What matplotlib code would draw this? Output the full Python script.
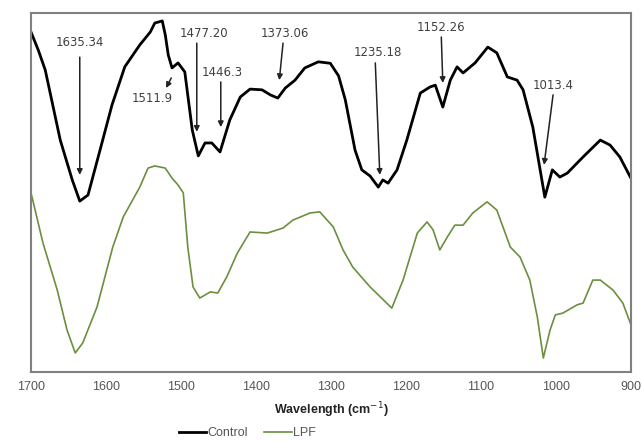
import numpy as np
import matplotlib.pyplot as plt

plt.rcParams['font.family'] = ['Liberation Sans', 'DejaVu Sans']

# FTIR spectra (wavenumber cm-1, transmittance-like units)
ControlWn = [1700, 1690, 1681, 1661, 1645, 1635, 1624, 1608, 1592, 1575, 1555, 1541, 1535,
             1525, 1521, 1517, 1512, 1504, 1495, 1485, 1477, 1468, 1459, 1448, 1435,
             1421, 1408, 1392, 1381, 1371, 1361, 1348, 1335, 1317, 1301, 1290, 1281, 1268,
             1259, 1248, 1237, 1231, 1224, 1212, 1199, 1181, 1168, 1161, 1151, 1141,
             1132, 1124, 1108, 1091, 1079, 1065, 1052, 1044, 1031, 1015, 1005, 995,
             985, 964, 941, 928, 915, 901]
ControlT = [94.7, 89.5, 84.1, 64.6, 53.5, 47.6, 49.3, 61.8, 74.4, 85.0, 91.1, 94.7, 97.2,
            97.8, 93.9, 88.3, 84.7, 86.1, 83.6, 67.4, 60.2, 63.8, 63.8, 61.3, 70.2,
            76.6, 78.8, 78.6, 77.2, 76.3, 79.1, 81.3, 84.7, 86.4, 86.0, 82.5, 75.8, 61.8,
            56.3, 54.6, 51.5, 53.5, 52.6, 56.3, 64.6, 77.7, 79.4, 79.9, 73.8, 81.3,
            85.0, 83.3, 86.1, 90.5, 88.9, 82.2, 81.3, 78.6, 68.2, 48.7, 56.3, 54.3,
            55.4, 59.9, 64.6, 63.2, 59.9, 54.3]

LpfWn = [1700, 1684, 1665, 1652, 1641, 1631, 1612, 1591, 1577, 1555, 1544, 1535,
         1521, 1512, 1504, 1497, 1491, 1484, 1475, 1461, 1451, 1439, 1425, 1408,
         1385, 1364, 1351, 1328, 1315, 1297, 1284, 1271, 1248, 1219, 1204, 1185,
         1172, 1164, 1155, 1145, 1135, 1124, 1111, 1092, 1079, 1061, 1048, 1035,
         1025, 1017, 1008, 1001, 991, 972, 964, 951, 941, 924, 911, 901]
LpfT = [49.9, 35.9, 22.8, 11.7, 5.3, 8.1, 18.1, 34.8, 43.2, 51.5, 56.8, 57.4,
        56.8, 54.0, 52.1, 49.9, 34.8, 23.7, 20.6, 22.3, 22.0, 26.5, 33.1, 39.0,
        38.7, 40.1, 42.3, 44.3, 44.6, 40.4, 34.0, 29.2, 23.7, 17.8, 25.6, 38.7,
        41.8, 39.6, 34.0, 37.6, 40.9, 40.9, 44.3, 47.4, 45.1, 34.8, 32.0, 25.6,
        15.3, 3.9, 11.7, 15.9, 16.4, 18.7, 19.2, 25.6, 25.6, 22.8, 19.2, 13.6]

# Peak labels: text, text position, arrow tail, arrow head
PeakLabels = ['1635.34', '1511.9', '1477.20', '1446.3', '1373.06', '1235.18', '1152.26', '1013.4']
LabelPos = [(1635, 91.9), (1538, 76.3), (1469, 94.2), (1445, 83.3),
            (1361, 94.2), (1237, 89.1), (1153, 96.1), (1004, 79.7)]
ArrowTail = [(1635, 87.7), (1513, 81.9), (1479, 91.6), (1447, 80.8),
             (1364, 91.6), (1241, 86.1), (1153, 93.3), (1004, 77.2)]
ArrowHead = [(1635, 54.9), (1520, 79.1), (1479, 66.9), (1447, 68.2),
             (1369, 81.3), (1235, 54.9), (1151, 80.5), (1016, 57.7)]

fig = plt.figure(figsize=(6.42, 4.41), dpi=100)
ax = fig.add_axes([0.0483, 0.1565, 0.9347, 0.814])

ax.plot(ControlWn, ControlT, color='black', lw=2.0, label='Control')
ax.plot(LpfWn, LpfT, color='#6b8f3e', lw=1.2, label='LPF')

for Label, Pos, Tail, Head in zip(PeakLabels, LabelPos, ArrowTail, ArrowHead):
    ax.text(Pos[0], Pos[1], Label, ha='center', va='center', fontsize=8.5,
            family='DejaVu Sans', color='#404040')
    ax.annotate('', xy=Head, xytext=Tail,
                arrowprops=dict(arrowstyle='-|>', color='#222222', lw=1.1,
                                mutation_scale=8, shrinkA=0, shrinkB=0))

ax.set_xlim(1700, 900)
ax.set_ylim(0, 100)
ax.set_xticks([1700, 1600, 1500, 1400, 1300, 1200, 1100, 1000, 900])
ax.set_yticks([])
ax.tick_params(axis='x', length=0, labelsize=9, labelcolor='#555555', pad=6.5)
for Spine in ax.spines.values():
    Spine.set_color('#808080')
    Spine.set_linewidth(1.5)

ax.set_xlabel('Wavelength (cm$^{-1}$)', fontsize=9, fontweight='bold', color='#222222', labelpad=5)
ax.legend(loc='center', bbox_to_anchor=(0.3855, 0.018), bbox_transform=fig.transFigure,
          ncol=2, frameon=False, fontsize=9, handlelength=2.2, handletextpad=0.1,
          columnspacing=1.3, labelcolor='#555555')

plt.savefig('out.png', dpi=100)
